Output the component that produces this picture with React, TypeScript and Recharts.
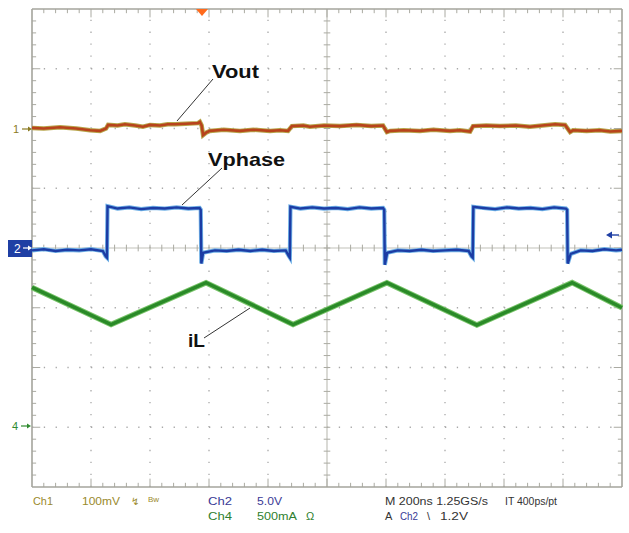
import React from 'react';
import { LineChart, Line, XAxis, YAxis, ReferenceLine } from 'recharts';

// time in ns (200 ns/div, 10 div), amplitude in screen divisions from centre
const voutTime = [
  0, 40, 95, 150, 197, 231, 251, 258, 290, 315, 350, 376, 400, 434, 460, 485, 520, 563, 569, 575, 580,
  590, 603, 650, 705, 750, 807, 840, 868, 881, 920, 942, 990, 1044, 1100, 1150, 1190, 1203, 1214, 1260,
  1315, 1360, 1417, 1450, 1485, 1495, 1540, 1586, 1640, 1688, 1730, 1773, 1807, 1824, 1834, 1880, 1925,
  1960, 2000,
];
const voutDiv = [
  2.01, 2.0, 2.02, 2.0, 1.97, 1.96, 2.0, 2.06, 2.05, 2.07, 2.05, 2.03, 2.06, 2.05, 2.07, 2.07, 2.08, 2.09,
  2.11, 2.05, 1.89, 1.93, 1.96, 1.98, 1.96, 1.98, 1.96, 1.97, 1.96, 2.04, 2.05, 2.03, 2.05, 2.04, 2.06,
  2.04, 2.05, 1.94, 1.96, 1.97, 1.96, 1.98, 1.96, 1.97, 1.95, 2.04, 2.05, 2.04, 2.05, 2.03, 2.05, 2.07,
  2.06, 1.94, 1.97, 1.96, 1.97, 1.95, 1.96,
];

const vphaseTime = [
  0, 40, 80, 120, 160, 200, 240, 250, 254, 256, 290, 330, 370, 410, 450, 490, 530, 568, 572, 574, 580,
  620, 660, 700, 740, 780, 820, 860, 870, 874, 876, 910, 950, 990, 1030, 1070, 1110, 1150, 1190, 1194,
  1196, 1204, 1240, 1280, 1320, 1360, 1400, 1440, 1480, 1490, 1494, 1496, 1530, 1570, 1610, 1650, 1690,
  1730, 1770, 1810, 1814, 1816, 1826, 1860, 1900, 1940, 1980, 2000,
];
const vphaseDiv = [
  -0.04, -0.02, -0.05, -0.03, -0.04, -0.02, -0.05, -0.14, -0.16, 0.7, 0.66, 0.68, 0.65, 0.67, 0.66, 0.68,
  0.66, 0.67, 0.64, -0.26, -0.08, -0.04, -0.05, -0.03, -0.05, -0.03, -0.05, -0.04, -0.13, -0.16, 0.69,
  0.66, 0.68, 0.66, 0.67, 0.65, 0.68, 0.66, 0.67, 0.64, -0.28, -0.08, -0.04, -0.05, -0.03, -0.05, -0.04,
  -0.03, -0.05, -0.14, -0.16, 0.69, 0.67, 0.65, 0.68, 0.66, 0.67, 0.65, 0.68, 0.66, 0.64, -0.26, -0.1,
  -0.04, -0.05, -0.02, -0.04, -0.03,
];

const ilTime = [0, 268, 590, 885, 1203, 1508, 1831, 2000];
const ilDiv = [-0.66, -1.28, -0.58, -1.28, -0.58, -1.29, -0.58, -1.0];

const zip = (ts: number[], vs: number[]) => ts.map((t, i) => ({ t, v: vs[i] }));
const vout = zip(voutTime, voutDiv);
const vphase = zip(vphaseTime, vphaseDiv);
const il = zip(ilTime, ilDiv);

const majorT = [0, 200, 400, 600, 800, 1000, 1200, 1400, 1600, 1800, 2000];
const majorV = [-4, -3, -2, -1, 0, 1, 2, 3, 4];
const minorT = Array.from({ length: 51 }, (_, i) => i * 40);
const minorV = Array.from({ length: 41 }, (_, i) => Math.round((i * 0.2 - 4) * 10) / 10);

const BORDER = '#a4a49c';
const DOTS = '#a8a8a8';
const FONT = '"Liberation Sans", Arial, sans-serif';
// tick lengths in data units (about 4 px and 8 px)
const TICK_T = 14;
const TICK_V = 0.07;

export default function App() {
  const tickLines: { key: string; seg: { x: number; y: number }[] }[] = [];
  minorT.slice(1, -1).forEach((t) => {
    const k = majorT.includes(t) ? 2 : 1;
    tickLines.push({ key: `tt${t}`, seg: [{ x: t, y: 4 }, { x: t, y: 4 - TICK_V * k }] });
    tickLines.push({ key: `bt${t}`, seg: [{ x: t, y: -4 }, { x: t, y: -4 + TICK_V * k }] });
    tickLines.push({ key: `ct${t}`, seg: [{ x: t, y: -TICK_V * 0.8 }, { x: t, y: TICK_V * 0.8 }] });
  });
  minorV.slice(1, -1).forEach((v) => {
    const k = majorV.includes(v) ? 2 : 1;
    tickLines.push({ key: `lt${v}`, seg: [{ x: 0, y: v }, { x: TICK_T * k, y: v }] });
    tickLines.push({ key: `rt${v}`, seg: [{ x: 2000, y: v }, { x: 2000 - TICK_T * k, y: v }] });
    tickLines.push({ key: `cv${v}`, seg: [{ x: 1000 - TICK_T * 0.8, y: v }, { x: 1000 + TICK_T * 0.8, y: v }] });
  });

  return (
    <div style={{ position: 'absolute', left: 0, top: 0, width: 629, height: 533, background: '#fff' }}>
      <LineChart width={629} height={533} margin={{ top: 9, right: 7, bottom: 46, left: 32 }}>
        <XAxis xAxisId="t" type="number" dataKey="t" domain={[0, 2000]} hide />
        <YAxis yAxisId="v" type="number" domain={[-4, 4]} hide />

        {majorT.slice(1, -1).filter((t) => t !== 1000).map((t) => (
          <ReferenceLine key={`gx${t}`} xAxisId="t" yAxisId="v" x={t} stroke={DOTS} strokeWidth={1.3}
            strokeDasharray="1.3 10.65" />
        ))}
        {majorV.slice(1, -1).filter((v) => v !== 0).map((v) => (
          <ReferenceLine key={`gy${v}`} xAxisId="t" yAxisId="v" y={v} stroke={DOTS} strokeWidth={1.3}
            strokeDasharray="1.3 10.5" />
        ))}
        <ReferenceLine xAxisId="t" yAxisId="v" x={1000} stroke="#c2c2ba" strokeWidth={1.2} />
        <ReferenceLine xAxisId="t" yAxisId="v" y={0} stroke="#c2c2ba" strokeWidth={1.2} />
        {tickLines.map((d) => (
          <ReferenceLine key={d.key} xAxisId="t" yAxisId="v" stroke="#aaaaa2" segment={d.seg} />
        ))}
        <ReferenceLine xAxisId="t" yAxisId="v" x={0} stroke={BORDER} strokeWidth={1.6} />
        <ReferenceLine xAxisId="t" yAxisId="v" x={2000} stroke={BORDER} strokeWidth={1.6} />
        <ReferenceLine xAxisId="t" yAxisId="v" y={4} stroke={BORDER} strokeWidth={1.6} />
        <ReferenceLine xAxisId="t" yAxisId="v" y={-4} stroke={BORDER} strokeWidth={1.6} />

        <Line xAxisId="t" yAxisId="v" data={il} dataKey="v" type="linear" stroke="#79c46a" strokeWidth={5.5}
          dot={false} isAnimationActive={false} />
        <Line xAxisId="t" yAxisId="v" data={il} dataKey="v" type="linear" stroke="#2a8a28" strokeWidth={3.5}
          dot={false} isAnimationActive={false} />
        <Line xAxisId="t" yAxisId="v" data={vout} dataKey="v" type="linear" stroke="#b7a44a" strokeWidth={4.5}
          dot={false} isAnimationActive={false} />
        <Line xAxisId="t" yAxisId="v" data={vout} dataKey="v" type="linear" stroke="#b8431c" strokeWidth={2.6}
          dot={false} isAnimationActive={false} />
        <Line xAxisId="t" yAxisId="v" data={vphase} dataKey="v" type="linear" stroke="#6fb0e6" strokeWidth={4.2}
          dot={false} isAnimationActive={false} />
        <Line xAxisId="t" yAxisId="v" data={vphase} dataKey="v" type="linear" stroke="#1c3ca4" strokeWidth={2.4}
          dot={false} isAnimationActive={false} />
      </LineChart>

      <svg width={629} height={533} style={{ position: 'absolute', left: 0, top: 0, pointerEvents: 'none' }}
        fontFamily={FONT}>
        {/* trigger marker */}
        <polygon points="196,9 208,9 202,16" fill="#ff6a1c" />
        {/* channel markers */}
        <text x={13} y={133} fontSize={11} fill="#8a7a22">1</text>
        <line x1={22} y1={129} x2={30} y2={129} stroke="#8a7a22" strokeWidth={1.2} />
        <polygon points="28,126.5 32,129 28,131.5" fill="#8a7a22" />
        <rect x={8} y={240} width={24} height={17} fill="#1f3fa4" />
        <text x={14} y={253} fontSize={12} fill="#fff">2</text>
        <line x1={23} y1={248} x2={30} y2={248} stroke="#fff" strokeWidth={1.2} />
        <polygon points="28,245.5 32,248 28,250.5" fill="#fff" />
        <text x={12} y={430} fontSize={11} fill="#2f8a2f">4</text>
        <line x1={21} y1={426} x2={29} y2={426} stroke="#2f8a2f" strokeWidth={1.2} />
        <polygon points="27,423.5 31,426 27,428.5" fill="#2f8a2f" />
        <line x1={609} y1={235} x2={619} y2={235} stroke="#1f3fa4" strokeWidth={1.4} />
        <polygon points="612,231.5 606,235 612,238.5" fill="#1f3fa4" />

        {/* trace labels */}
        <line x1={213} y1={79} x2={177} y2={121} stroke="#333" strokeWidth={1} />
        <text x={212} y={78} fontSize={19} fontWeight="bold" fill="#111" textLength={47} lengthAdjust="spacingAndGlyphs">Vout</text>
        <line x1={222} y1={168} x2={182} y2={205} stroke="#333" strokeWidth={1} />
        <text x={208} y={166} fontSize={19} fontWeight="bold" fill="#111" textLength={77} lengthAdjust="spacingAndGlyphs">Vphase</text>
        <line x1={204} y1={338} x2={250} y2={308} stroke="#333" strokeWidth={1} />
        <text x={188} y={347} fontSize={19} fontWeight="bold" fill="#111" textLength={17} lengthAdjust="spacingAndGlyphs">iL</text>

        {/* readout */}
        <g fontSize={11}>
          <text x={33} y={505} fill="#9a8a2c" textLength={20} lengthAdjust="spacingAndGlyphs">Ch1</text>
          <text x={82} y={505} fill="#9a8a2c" textLength={38} lengthAdjust="spacingAndGlyphs">100mV</text>
          <text x={131} y={505} fill="#9a8a2c" fontSize={10}>↯</text>
          <text x={148} y={502} fill="#9a8a2c" fontSize={8}>Bw</text>
          <text x={208} y={505} fill="#3a3a96" textLength={24} lengthAdjust="spacingAndGlyphs">Ch2</text>
          <text x={257} y={505} fill="#3a3a96" textLength={25} lengthAdjust="spacingAndGlyphs">5.0V</text>
          <text x={208} y={520} fill="#2f7f2f" textLength={24} lengthAdjust="spacingAndGlyphs">Ch4</text>
          <text x={257} y={520} fill="#2f7f2f" textLength={40} lengthAdjust="spacingAndGlyphs">500mA</text>
          <text x={306} y={520} fill="#2f7f2f">Ω</text>
          <text x={385} y={505} fill="#333" textLength={103} lengthAdjust="spacingAndGlyphs">M 200ns 1.25GS/s</text>
          <text x={505} y={505} fill="#333" textLength={52} lengthAdjust="spacingAndGlyphs">IT 400ps/pt</text>
          <text x={385} y={520} fill="#333">A</text>
          <text x={400} y={520} fill="#3a3a96" textLength={18} lengthAdjust="spacingAndGlyphs">Ch2</text>
          <text x={427} y={520} fill="#333">\</text>
          <text x={440} y={520} fill="#333" textLength={28} lengthAdjust="spacingAndGlyphs">1.2V</text>
        </g>
      </svg>
    </div>
  );
}
